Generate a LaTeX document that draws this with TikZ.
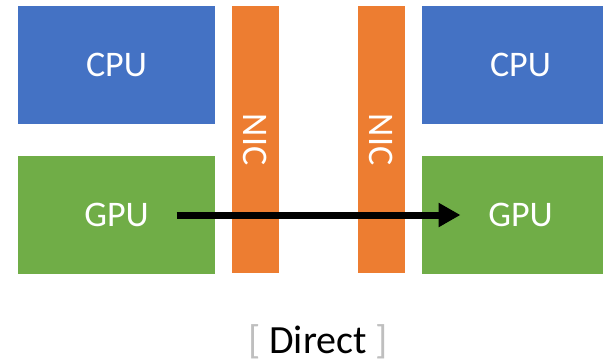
\documentclass[tikz,border=0pt]{standalone}
\usepackage{fontspec}
\setmainfont{Carlito}
\usetikzlibrary{positioning,arrows.meta}
\definecolor{cpublue}{HTML}{4472C4}
\definecolor{gpugreen}{HTML}{70AD47}
\definecolor{nicorange}{HTML}{ED7D31}
\definecolor{bracketgray}{HTML}{BFBFBF}
\begin{document}
\begin{tikzpicture}[x=1pt, y=-1pt, line join=round, font=\fontsize{36}{40}\selectfont,
		unit/.style={minimum width=197pt, minimum height=118pt, inner sep=0pt, text=white},
		nicbar/.style={fill=nicorange, minimum width=47pt, minimum height=267pt, inner sep=0pt, text=white}]
			\useasboundingbox (0,0) rectangle (603,364);
			% hosts
			\node[unit, fill=cpublue] (cpuA) at (116.5,65) {CPU};
			\node[unit, fill=gpugreen] (gpuA) at (116.5,215) {GPU};
			\node[unit, fill=cpublue] (cpuB) at (520.5,65) {CPU};
			\node[unit, fill=gpugreen] (gpuB) at (520.5,215) {GPU};
			% network cards
			\foreach \nicname/\nicx in {nicA/255.5, nicB/381.5}
			\node[nicbar] (\nicname) at (\nicx,139.5) {\rotatebox{-90}{NIC}};
			\draw[-{Triangle[length=22pt,width=23pt]}, line width=7pt]
			([xshift=60pt]gpuA.center) -- ([xshift=-60pt]gpuB.center);
			\node[anchor=base, inner sep=0pt, font=\fontsize{40}{44}\selectfont] (caption) at (318,353)
			{\textcolor{bracketgray}{[}\hspace{9pt}Direct\hspace{9pt}\textcolor{bracketgray}{]}};
		\end{tikzpicture}
\end{document}
